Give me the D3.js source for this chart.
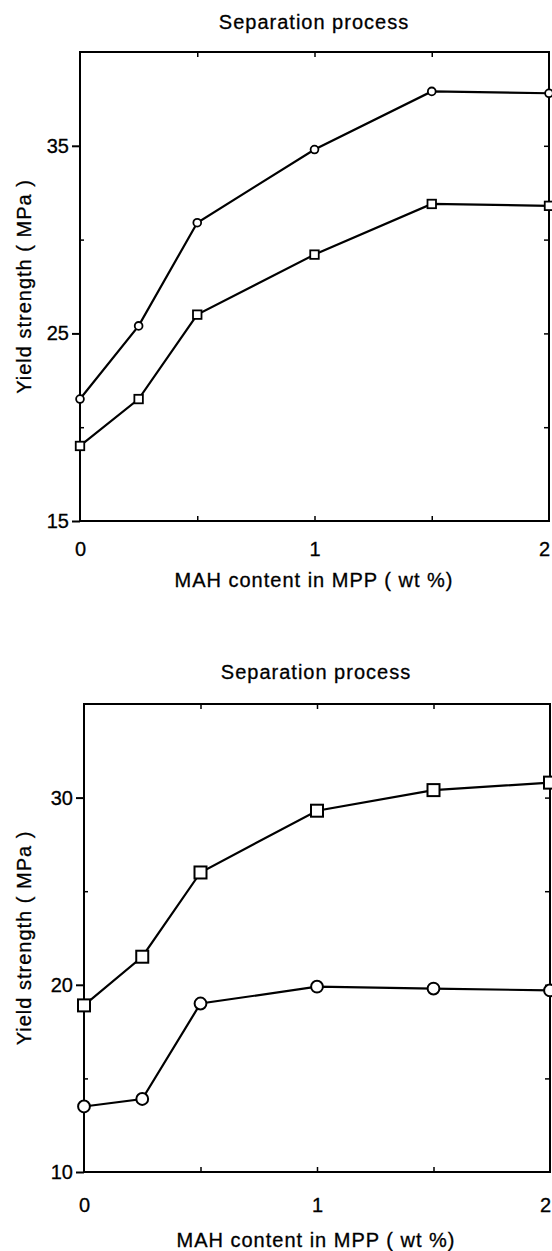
<!DOCTYPE html>
<html>
<head>
<meta charset="utf-8">
<script src="https://cdnjs.cloudflare.com/ajax/libs/d3/7.8.5/d3.min.js"></script>
<style>
body{margin:0;background:#fff;}
text{font-family:"Liberation Sans",Arial,sans-serif;fill:#000;stroke:#000;stroke-width:0.3px;}
</style>
</head>
<body>
<svg id="fig" width="552" height="1251"></svg>
<script>
// MAH content (wt %)
var mah = [0, 0.25, 0.5, 1, 1.5, 2];
// upper panel, yield strength (MPa)
var topCircle = [21.5, 25.4, 30.9, 34.8, 37.9, 37.8];
var topSquare = [19.0, 21.5, 26.0, 29.2, 31.9, 31.8];
// lower panel
var botSquare = [18.9, 21.5, 26.0, 29.3, 30.4, 30.8];
var botCircle = [13.5, 13.9, 19.0, 19.9, 19.8, 19.7];
// ticks
var xLabels = [0, 1, 2];
var xInner = [0.5, 1, 1.5];
var topMajor = [15, 25, 35], topMinor = [20, 30];
var botMajor = [10, 20, 30], botMinor = [15, 25];
var titleText = "Separation process";
var xTitle = "MAH content in MPP ( wt %)";
var yTitle = "Yield strength ( MPa )";

var svg = d3.select("#fig");

function panel(p){
  var x = d3.scaleLinear().domain([0,2]).range([p.l,p.r]);
  var y = d3.scaleLinear().domain(p.dom).range([p.b,p.t]);
  var g = svg.append("g");

  g.append("text").attr("x",p.tx).attr("y",p.ty).attr("dy","0.35em")
    .attr("text-anchor","middle").style("font-size","20px").style("letter-spacing","1px").text(titleText);

  // left axis: labelled ticks pointing out
  var ya = g.append("g").attr("transform","translate("+p.l+",0)")
    .call(d3.axisLeft(y).tickValues(p.major).tickSize(8).tickPadding(3).tickFormat(d3.format("d")));
  ya.select(".domain").remove();
  ya.selectAll("text").style("font-size","20px").style("font-family","Liberation Sans, Arial, sans-serif");
  ya.selectAll("line").attr("stroke-width",2);
  // minor ticks pointing in
  g.append("g").attr("transform","translate("+p.l+",0)")
    .call(d3.axisRight(y).tickValues(p.minor).tickSize(4).tickFormat(""))
    .call(function(s){s.select(".domain").remove();s.selectAll("line").attr("stroke-width",1.5);});
  // right side inward ticks
  g.append("g").attr("transform","translate("+p.r+",0)")
    .call(d3.axisLeft(y).tickValues(p.major.concat(p.minor).filter(function(v){return v>p.dom[0];})).tickSize(5).tickFormat(""))
    .call(function(s){s.select(".domain").remove();s.selectAll("line").attr("stroke-width",1.5);});

  // x axis labels
  var xa = g.append("g").attr("transform","translate(0,"+p.b+")")
    .call(d3.axisBottom(x).tickValues(xLabels).tickSize(0).tickPadding(p.xpad).tickFormat(d3.format("d")));
  xa.select(".domain").remove();
  xa.selectAll("text").style("font-size","20px").style("font-family","Liberation Sans, Arial, sans-serif")
    .attr("dx",function(d){return d==2?"-5":"0";});
  // inner x ticks bottom and top
  g.append("g").attr("transform","translate(0,"+p.b+")")
    .call(d3.axisTop(x).tickValues(xInner).tickSize(5).tickFormat(""))
    .call(function(s){s.select(".domain").remove();s.selectAll("line").attr("stroke-width",1.5);});
  g.append("g").attr("transform","translate(0,"+p.t+")")
    .call(d3.axisBottom(x).tickValues(xInner).tickSize(5).tickFormat(""))
    .call(function(s){s.select(".domain").remove();s.selectAll("line").attr("stroke-width",1.5);});

  // frame
  g.append("rect").attr("x",x(0)).attr("y",y(p.dom[1]))
    .attr("width",x(2)-x(0)).attr("height",y(p.dom[0])-y(p.dom[1]))
    .attr("fill","none").attr("stroke","#000").attr("stroke-width",2);

  g.append("text").attr("x",p.xtx).attr("y",p.xty).attr("dy","0.35em")
    .attr("text-anchor","middle").style("font-size","20px").style("letter-spacing","1px").text(xTitle);
  g.append("text").attr("transform","translate("+p.ytx+","+((p.t+p.b)/2)+") rotate(-90)")
    .attr("dy","0.35em").attr("text-anchor","middle").style("font-size","20px").style("letter-spacing","1px").text(yTitle);

  var line = d3.line().x(function(d,i){return x(mah[i]);}).y(function(d){return y(d);});
  p.series.forEach(function(s){
    g.append("path").datum(s.v).attr("d",line).attr("fill","none").attr("stroke","#000").attr("stroke-width",2.2);
    var m = g.append("g").selectAll(".m").data(s.v).enter();
    if(s.shape=="circle"){
      m.append("circle").attr("cx",function(d,i){return x(mah[i]);}).attr("cy",function(d){return y(d);})
        .attr("r",p.cr).attr("fill","#fff").attr("stroke","#000").attr("stroke-width",p.sw);
    } else {
      m.append("rect").attr("x",function(d,i){return x(mah[i])-p.sq/2;}).attr("y",function(d){return y(d)-p.sq/2;})
        .attr("width",p.sq).attr("height",p.sq).attr("fill","#fff").attr("stroke","#000").attr("stroke-width",p.sw);
    }
  });
}

panel({l:80, r:549, t:52, b:521, dom:[15,40], major:topMajor, minor:topMinor,
  tx:314, ty:22, xtx:314, xty:580, ytx:24, xpad:21, cr:3.9, sq:8.5, sw:1.8,
  series:[{v:topCircle,shape:"circle"},{v:topSquare,shape:"square"}]});
panel({l:84, r:550, t:704, b:1172, dom:[10,35], major:botMajor, minor:botMinor,
  tx:316, ty:672, xtx:316, xty:1240, ytx:24, xpad:26, cr:5.9, sq:12, sw:2,
  series:[{v:botSquare,shape:"square"},{v:botCircle,shape:"circle"}]});
</script>
</body>
</html>
